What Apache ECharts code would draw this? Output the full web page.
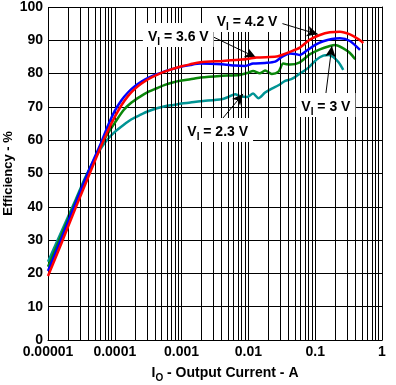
<!DOCTYPE html>
<html><head><meta charset="utf-8">
<script src="https://cdn.jsdelivr.net/npm/echarts@6/dist/echarts.min.js"></script>
<style>html,body{margin:0;padding:0;background:#fff}#c{width:396px;height:385px}</style>
</head><body><div id="c"></div>
<script>
// Tick labels
const xTickLabels = ['0.00001', '0.0001', '0.001', '0.01', '0.1', '1'];
const yTickValues = [0, 10, 20, 30, 40, 50, 60, 70, 80, 90, 100];

// Data: log10(I_O / A) and efficiency (%)
const v42LogI = [-5, -4.8, -4.6, -4.4, -4.2, -4.1, -4.0, -3.9, -3.8, -3.7, -3.6, -3.5, -3.37, -3.22, -3.0, -2.87, -2.72, -2.38, -2.1, -1.88, -1.58, -1.5, -1.38, -1.23, -1.08, -0.93, -0.78, -0.63, -0.48, -0.35, -0.28];
const v42Eff  = [19.2, 29, 39, 48.8, 58.5, 63, 67, 70.5, 73.3, 75.4, 77, 78.3, 79.6, 80.8, 82.2, 82.8, 83.4, 83.8, 84.2, 84.8, 85.1, 85.6, 86.5, 87.8, 90.2, 91.6, 92.4, 92.6, 91.8, 90.3, 89.2];

const v36LogI = [-5, -4.8, -4.6, -4.4, -4.2, -4.1, -4.0, -3.9, -3.8, -3.7, -3.6, -3.5, -3.37, -3.22, -3.0, -2.87, -2.72, -2.4, -2.2, -2.05, -1.93, -1.75, -1.6, -1.5, -1.38, -1.3, -1.23, -1.12, -1.0, -0.88, -0.75, -0.63, -0.48, -0.33];
const v36Eff  = [20.7, 30.5, 40.5, 50.3, 59.5, 64.5, 68.8, 72, 74.4, 76.2, 77.6, 78.7, 79.8, 80.9, 82.1, 82.6, 83.0, 82.8, 82.4, 82.3, 83.0, 83.2, 83.6, 85.0, 86.0, 85.9, 85.6, 87.0, 88.6, 89.7, 90.4, 90.6, 89.8, 87.1];

const v30LogI = [-5, -4.8, -4.6, -4.4, -4.2, -4.12, -4.0, -3.87, -3.75, -3.62, -3.5, -3.37, -3.25, -3.12, -3.0, -2.87, -2.72, -2.43, -2.13, -2.0, -1.93, -1.83, -1.75, -1.65, -1.55, -1.48, -1.42, -1.38, -1.23, -1.08, -0.93, -0.78, -0.7, -0.58, -0.48, -0.4];
const v30Eff  = [22, 31.5, 41, 50.3, 58.5, 61.5, 65.2, 69, 71.3, 73.1, 74.5, 75.6, 76.6, 77.4, 77.9, 78.3, 78.8, 79.3, 79.6, 80.3, 80.8, 80.1, 80.9, 79.9, 80.6, 83.0, 82.8, 82.7, 83.4, 85.8, 87.3, 88.3, 88.6, 87.6, 86.2, 84.3];

const v23LogI = [-5, -4.8, -4.6, -4.45, -4.3, -4.2, -4.12, -4.0, -3.87, -3.75, -3.62, -3.5, -3.37, -3.25, -3.12, -3.0, -2.87, -2.72, -2.4, -2.3, -2.2, -2.12, -2.02, -1.93, -1.85, -1.75, -1.65, -1.55, -1.45, -1.35, -1.23, -1.1, -0.98, -0.88, -0.8, -0.73, -0.65, -0.58];
const v23Eff  = [23.5, 32.5, 41.5, 48.5, 54.5, 57.8, 60, 62.5, 64.6, 66.3, 67.6, 68.7, 69.6, 70.2, 70.6, 71.0, 71.3, 71.7, 72.3, 73.0, 73.8, 73.2, 73.0, 74.0, 72.6, 74.3, 75.5, 76.5, 77.8, 78.4, 80.0, 81.8, 84.2, 85.4, 85.6, 85.0, 83.4, 81.1];

const seriesNames = ['2.3 V', '3 V', '3.6 V', '4.2 V'];
const seriesColors = ['#009494', '#0a870a', '#0000ff', '#ff0000'];

// Annotation layout (label centre and arrow in data coordinates: [log10 I, %])
const annotations = [
  { text: '4.2 V', label: [-2.02, 96.1], from: [-1.57, 95.5], to: [-0.96, 91.8] },
  { text: '3.6 V', label: [-3.05, 91.6], from: [-2.63, 92.0], to: [-1.89, 84.9] },
  { text: '2.3 V', label: [-2.46, 63.1], from: [-2.40, 66.2], to: [-2.08, 73.9] },
  { text: '3 V',   label: [-0.84, 70.6], from: [-0.84, 74.0], to: [-0.75, 88.3] }
];

const toPts = (lg, eff) => lg.map((v, i) => [v, eff[i]]);
const curves = [toPts(v23LogI, v23Eff), toPts(v30LogI, v30Eff), toPts(v36LogI, v36Eff), toPts(v42LogI, v42Eff)];

// minor log grid positions (2..9 within each decade)
const minorX = [];
for (let d = -5; d < 0; d++) for (let m = 2; m <= 9; m++) minorX.push({ xAxis: d + Math.log10(m) });

const font = 'Liberation Sans, Arial, sans-serif';
const chart = echarts.init(document.getElementById('c'), null, { renderer: 'canvas' });

const series = curves.map((pts, i) => ({
  name: seriesNames[i], type: 'line', data: pts, showSymbol: false, smooth: 0.25,
  lineStyle: { color: seriesColors[i], width: 2.5 }, z: 3 + i, animation: false
}));

series.unshift({
  name: 'minorGrid', type: 'line', data: [[-5, null]], z: 1, silent: true, animation: false,
  markLine: { silent: true, symbol: 'none', animation: false, label: { show: false },
    lineStyle: { color: '#000', width: 1, type: 'solid' }, data: minorX }
});

series.push({
  name: 'annotations', type: 'line', data: [[-5, null]], z: 10, silent: true, animation: false,
  markLine: {
    silent: true, animation: false, symbol: ['none', 'arrow'], symbolSize: [8, 11],
    label: { show: false }, lineStyle: { color: '#000', width: 1, type: 'solid' },
    data: annotations.map(a => [{ coord: a.from }, { coord: a.to }])
  },
  markPoint: {
    silent: true, animation: false, symbol: 'rect', symbolSize: 1, itemStyle: { color: 'rgba(0,0,0,0)' },
    data: annotations.map(a => ({
      coord: a.label,
      label: {
        show: true, position: 'inside', backgroundColor: '#fff', padding: [3, 5, 3, 5],
        formatter: '{v|V}{s|I}{v| = ' + a.text + '}',
        rich: {
          v: { fontFamily: font, fontWeight: 'bold', fontSize: 14, color: '#000', lineHeight: 18, verticalAlign: 'bottom' },
          s: { fontFamily: font, fontWeight: 'bold', fontSize: 10, color: '#000', lineHeight: 18, verticalAlign: 'bottom', padding: [0, 0, -3, 0] }
        }
      }
    }))
  }
});

chart.setOption({
  animation: false,
  backgroundColor: '#fff',
  grid: { left: 48, right: 14, top: 7, bottom: 45, containLabel: false, outerBoundsMode: 'none' },
  xAxis: {
    type: 'value', min: -5, max: 0, interval: 1,
    axisLine: { show: true, lineStyle: { color: '#000', width: 1 } },
    axisTick: { show: false },
    axisLabel: { color: '#000', fontFamily: font, fontWeight: 'bold', fontSize: 14, margin: 5,
      formatter: (v) => xTickLabels[Math.round(v + 5)] },
    splitLine: { show: true, lineStyle: { color: '#000', width: 1 } },
    name: '{a|I}{b|O}{a| - Output Current - A}', nameLocation: 'middle', nameGap: 22, nameMoveOverlap: false,
    nameTextStyle: { padding: [0, 0, 0, 20], rich: {
      a: { fontFamily: font, fontWeight: 'bold', fontSize: 14, color: '#000', lineHeight: 18, verticalAlign: 'bottom' },
      b: { fontFamily: font, fontWeight: 'bold', fontSize: 10, color: '#000', lineHeight: 18, verticalAlign: 'bottom', padding: [0, 0, -3, 0] }
    } }
  },
  yAxis: {
    type: 'value', min: yTickValues[0], max: yTickValues[yTickValues.length - 1], interval: 10,
    axisLine: { show: true, lineStyle: { color: '#000', width: 1 } },
    axisTick: { show: false },
    axisLabel: { color: '#000', fontFamily: font, fontWeight: 'bold', fontSize: 14, margin: 5 },
    splitLine: { show: true, lineStyle: { color: '#000', width: 1 } },
    name: 'Efficiency - %', nameLocation: 'middle', nameGap: 33, nameRotate: 90, nameMoveOverlap: false,
    nameTextStyle: { fontFamily: font, fontWeight: 'bold', fontSize: 13, color: '#000' }
  },
  series: series
});
</script></body></html>
